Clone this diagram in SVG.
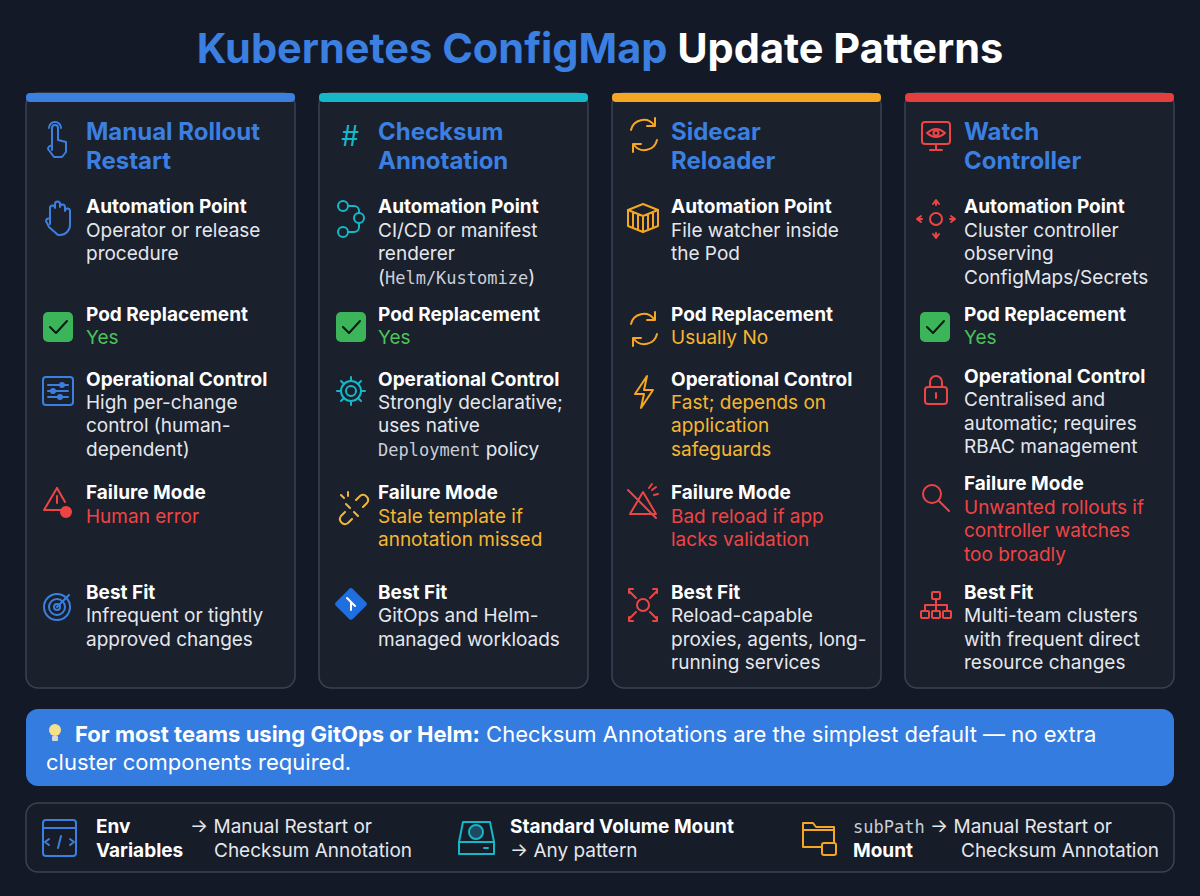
<svg xmlns="http://www.w3.org/2000/svg" width="1200" height="896" viewBox="0 0 1200 896">
<style>
text{font-family:Inter,"Noto Sans","Liberation Sans",sans-serif}
.h{font-size:19px;font-weight:700;fill:#ffffff}
.t{font-size:19px;fill:#e4e7ec}
.m{font-family:"DejaVu Sans Mono","Liberation Mono",monospace;font-size:17px;fill:#c9ced8}
.g{font-size:19px;fill:#4cc25a}
.a{font-size:19px;fill:#f5b731}
.r{font-size:19px;fill:#ef4444}
.card{fill:#1a202c;stroke:#3b4252;stroke-width:1.5}
.ct{font-size:24px;font-weight:700}
.ic{fill:none;stroke-width:2;stroke-linecap:round;stroke-linejoin:round}
</style>
<rect width="1200" height="896" fill="#131926"/>
<text x="600" y="63" text-anchor="middle" font-size="41.5" font-weight="700"><tspan fill="#3b7fe0">Kubernetes ConfigMap</tspan><tspan fill="#ffffff"> Update Patterns</tspan></text>

<g id="card1">
<rect class="card" x="26" y="93" width="269" height="595" rx="12"/>
<rect x="26" y="93" width="269" height="9" rx="4" fill="#3b7fe0"/>
<g class="ic" stroke="#3b7fe0"><path d="M52 150v-22a3 3 0 0 1 6 0v12l8 2v10l-4 5h-8l-6-8a3 3 0 0 1 4-3z"/><path d="M49 128a6 6 0 0 1 12 0"/></g>
<text class="ct" fill="#3b7fe0"><tspan x="86" y="140">Manual Rollout</tspan><tspan x="86" y="169">Restart</tspan></text>
<g class="ic" stroke="#3b7fe0"><path d="M50 224v-16a2.5 2.5 0 0 1 5 0v-4a2.5 2.5 0 0 1 5 0v3a2.5 2.5 0 0 1 5 0v4a2.5 2.5 0 0 1 5 0v14a10 10 0 0 1-10 10h-2l-9-8-3-6a2.5 2.5 0 0 1 4-2z"/></g>
<text class="h" x="86" y="213">Automation Point</text>
<text class="t"><tspan x="86" y="237">Operator or release</tspan><tspan x="86" y="260">procedure</tspan></text>
<rect x="43" y="312" width="30" height="30" rx="5" fill="#3cb55a"/><path d="M50 327l6 6 11-12" class="ic" stroke="#0d1a12" stroke-width="3"/>
<text class="h" x="86" y="321">Pod Replacement</text><text class="g" x="86" y="344">Yes</text>
<g class="ic" stroke="#3b7fe0"><rect x="43" y="377" width="30" height="28" rx="3"/><path d="M48 385h20M48 391h20M48 397h20"/><circle cx="62" cy="385" r="2"/><circle cx="53" cy="391" r="2"/><circle cx="60" cy="397" r="2"/></g>
<text class="h" x="86" y="386">Operational Control</text>
<text class="t"><tspan x="86" y="409">High per-change</tspan><tspan x="86" y="432">control (human-</tspan><tspan x="86" y="456">dependent)</tspan></text>
<g class="ic" stroke="#ef4444"><path d="M57 488l-13 22h22"/><path d="M57 488l8 14"/><path d="M57 496v7"/><circle cx="66" cy="512" r="5" fill="#ef4444"/></g>
<text class="h" x="86" y="499">Failure Mode</text><text class="r" x="86" y="523">Human error</text>
<g class="ic" stroke="#3b7fe0"><circle cx="57" cy="607" r="13"/><circle cx="57" cy="607" r="8"/><circle cx="57" cy="607" r="3"/><path d="M57 607l12-12"/></g>
<text class="h" x="86" y="599">Best Fit</text>
<text class="t"><tspan x="86" y="622">Infrequent or tightly</tspan><tspan x="86" y="646">approved changes</tspan></text>
</g>

<g id="card2">
<rect class="card" x="319" y="93" width="269" height="595" rx="12"/>
<rect x="319" y="93" width="269" height="9" rx="4" fill="#14b8c8"/>
<text x="350" y="146" font-size="28" fill="#14b8c8" text-anchor="middle">#</text>
<text class="ct" fill="#3b7fe0"><tspan x="378" y="140">Checksum</tspan><tspan x="378" y="169">Annotation</tspan></text>
<g class="ic" stroke="#14b8c8"><circle cx="343" cy="206" r="5"/><circle cx="359" cy="218" r="5"/><circle cx="343" cy="232" r="5"/><path d="M348 206h6a5 5 0 0 1 5 5v2M359 223v4a5 5 0 0 1-5 5h-6"/></g>
<text class="h" x="378" y="213">Automation Point</text>
<text class="t"><tspan x="378" y="237">CI/CD or manifest</tspan><tspan x="378" y="260">renderer</tspan><tspan x="378" y="284">(<tspan class="m">Helm/Kustomize</tspan>)</tspan></text>
<rect x="336" y="312" width="30" height="30" rx="5" fill="#3cb55a"/><path d="M343 327l6 6 11-12" class="ic" stroke="#0d1a12" stroke-width="3"/>
<text class="h" x="378" y="321">Pod Replacement</text><text class="g" x="378" y="344">Yes</text>
<g class="ic" stroke="#14b8c8"><circle cx="351" cy="391" r="5"/><path d="M351 377v4M351 401v4M337 391h4M361 391h4M341 381l3 3M358 398l3 3M341 401l3-3M358 384l3-3"/><circle cx="351" cy="391" r="10"/></g>
<text class="h" x="378" y="386">Operational Control</text>
<text class="t"><tspan x="378" y="409">Strongly declarative;</tspan><tspan x="378" y="432">uses native</tspan><tspan x="378" y="456"><tspan class="m">Deployment</tspan> policy</tspan></text>
<g class="ic" stroke="#f5b731"><path d="M345 512l-4 4a5 5 0 0 0 7 7l4-4M356 500l4-4a5 5 0 0 1 7 7l-4 4M350 508l-4-4M354 512l4 4M348 492v4M341 495l3 3"/></g>
<text class="h" x="378" y="499">Failure Mode</text>
<text class="a"><tspan x="378" y="523">Stale template if</tspan><tspan x="378" y="546">annotation missed</tspan></text>
<rect x="339" y="592" width="24" height="24" rx="3" transform="rotate(45 351 604)" fill="#1f6fe0"/><path d="M347 598l4 4v8M351 602l4 4" class="ic" stroke="#ffffff" stroke-width="1.5"/>
<text class="h" x="378" y="599">Best Fit</text>
<text class="t"><tspan x="378" y="622">GitOps and Helm-</tspan><tspan x="378" y="646">managed workloads</tspan></text>
</g>

<g id="card3">
<rect class="card" x="612" y="93" width="269" height="595" rx="12"/>
<rect x="612" y="93" width="269" height="9" rx="4" fill="#f5a623"/>
<g class="ic" stroke="#f5a623"><path d="M631 130a13 13 0 0 1 23-5M657 140a13 13 0 0 1-23 5"/><path d="M655 118v8h-8M633 152v-8h8"/></g>
<text class="ct" fill="#3b7fe0"><tspan x="671" y="140">Sidecar</tspan><tspan x="671" y="169">Reloader</tspan></text>
<g class="ic" stroke="#f5a623"><path d="M628 210l15-6 15 6v16l-15 6-15-6z"/><path d="M628 210l15 6 15-6M643 216v16M633 213v14M638 215v14M648 215v14M653 213v14"/></g>
<text class="h" x="671" y="213">Automation Point</text>
<text class="t"><tspan x="671" y="237">File watcher inside</tspan><tspan x="671" y="260">the Pod</tspan></text>
<g class="ic" stroke="#f5a623"><path d="M631 324a13 13 0 0 1 23-5M657 334a13 13 0 0 1-23 5"/><path d="M655 312v8h-8M633 346v-8h8"/></g>
<text class="h" x="671" y="321">Pod Replacement</text><text class="a" x="671" y="344">Usually No</text>
<path d="M647 376l-12 18h9l-3 14 12-18h-9z" class="ic" stroke="#f5a623"/>
<text class="h" x="671" y="386">Operational Control</text>
<text class="a"><tspan x="671" y="409">Fast; depends on</tspan><tspan x="671" y="432">application</tspan><tspan x="671" y="456">safeguards</tspan></text>
<g class="ic" stroke="#ef4444"><path d="M643 492l-13 22h26zM628 490l28 28M649 488l3-4M654 495l4-1M652 490l4-3"/></g>
<text class="h" x="671" y="499">Failure Mode</text>
<text class="r"><tspan x="671" y="523">Bad reload if app</tspan><tspan x="671" y="546">lacks validation</tspan></text>
<g class="ic" stroke="#ef4444"><circle cx="643" cy="605" r="6"/><path d="M629 593v-4h4M629 591l7 7M657 593v-4h-4M657 591l-7 7M629 617v4h4M629 619l7-7M657 617v4h-4M657 619l-7-7"/></g>
<text class="h" x="671" y="599">Best Fit</text>
<text class="t"><tspan x="671" y="622">Reload-capable</tspan><tspan x="671" y="646">proxies, agents, long-</tspan><tspan x="671" y="669">running services</tspan></text>
</g>

<g id="card4">
<rect class="card" x="905" y="93" width="269" height="595" rx="12"/>
<rect x="905" y="93" width="269" height="9" rx="4" fill="#e53e3e"/>
<g class="ic" stroke="#ef4444"><rect x="922" y="122" width="28" height="22" rx="3"/><path d="M936 144v6M930 150h12"/><path d="M927 133q9-8 18 0q-9 8-18 0z"/><circle cx="936" cy="133" r="2.5"/></g>
<text class="ct" fill="#3b7fe0"><tspan x="964" y="140">Watch</tspan><tspan x="964" y="169">Controller</tspan></text>
<g class="ic" stroke="#ef4444"><circle cx="936" cy="219" r="6"/><path d="M936 205v-4M936 233v4M922 219h-4M950 219h4"/><path d="M933 204l3-4 3 4M933 234l3 4 3-4M921 216l-4 3 4 3M951 216l4 3-4 3"/></g>
<text class="h" x="964" y="213">Automation Point</text>
<text class="t"><tspan x="964" y="237">Cluster controller</tspan><tspan x="964" y="260">observing</tspan><tspan x="964" y="284">ConfigMaps/Secrets</tspan></text>
<rect x="920" y="312" width="30" height="30" rx="5" fill="#3cb55a"/><path d="M927 327l6 6 11-12" class="ic" stroke="#0d1a12" stroke-width="3"/>
<text class="h" x="964" y="321">Pod Replacement</text><text class="g" x="964" y="344">Yes</text>
<g class="ic" stroke="#ef4444"><rect x="925" y="387" width="22" height="17" rx="3"/><path d="M930 387v-5a6 6 0 0 1 12 0v5M936 393v5"/></g>
<text class="h" x="964" y="383">Operational Control</text>
<text class="t"><tspan x="964" y="406">Centralised and</tspan><tspan x="964" y="430">automatic; requires</tspan><tspan x="964" y="453">RBAC management</tspan></text>
<g class="ic" stroke="#ef4444"><circle cx="932" cy="494" r="9"/><path d="M939 501l10 10"/></g>
<text class="h" x="964" y="490">Failure Mode</text>
<text class="r"><tspan x="964" y="514">Unwanted rollouts if</tspan><tspan x="964" y="537">controller watches</tspan><tspan x="964" y="561">too broadly</tspan></text>
<g class="ic" stroke="#ef4444"><rect x="932" y="592" width="8" height="7" rx="1"/><rect x="921" y="611" width="8" height="7" rx="1"/><rect x="932" y="611" width="8" height="7" rx="1"/><rect x="943" y="611" width="8" height="7" rx="1"/><path d="M936 599v12M925 611v-6h22v6"/></g>
<text class="h" x="964" y="599">Best Fit</text>
<text class="t"><tspan x="964" y="622">Multi-team clusters</tspan><tspan x="964" y="646">with frequent direct</tspan><tspan x="964" y="669">resource changes</tspan></text>
</g>

<g id="banner">
<rect x="26" y="709" width="1148" height="77" rx="12" fill="#347ce0"/>
<g><circle cx="55" cy="730" r="6" fill="#f7e08a"/><rect x="52" y="736" width="6" height="5" rx="1" fill="#d8d8d8"/></g>
<text font-size="22" fill="#ffffff"><tspan x="75" y="742" font-weight="700">For most teams using GitOps or Helm:</tspan><tspan> Checksum Annotations are the simplest default — no extra</tspan><tspan x="46" y="770">cluster components required.</tspan></text>
</g>

<g id="footer">
<rect x="26" y="803" width="1148" height="69" rx="12" fill="#161c28" stroke="#3b4252" stroke-width="1.5"/>
<g class="ic" stroke="#3b7fe0"><rect x="43" y="820" width="33" height="36" rx="3"/><path d="M43 828h33M49 839l-4 3 4 3M70 839l4 3-4 3M61 836l-3 12"/></g>
<text class="h" x="96" y="833">Env</text><text class="h" x="96" y="857">Variables</text>
<text class="t"><tspan x="190" y="833">→ Manual Restart or</tspan><tspan x="214" y="857">Checksum Annotation</tspan></text>
<g class="ic" stroke="#14b8c8"><path d="M463 822h27l4 20v12h-35v-12z"/><path d="M459 842h35M484 848h4"/><circle cx="476" cy="832" r="7" fill="#1d4a5e"/></g>
<text class="h" x="510" y="833">Standard Volume Mount</text><text class="t" x="510" y="857">→ Any pattern</text>
<g class="ic" stroke="#f5a623"><path d="M803 823h10l3 4h18v20h-31z"/><path d="M803 830h31"/><rect x="822" y="843" width="14" height="12" rx="2" fill="#161c28"/></g>
<text x="853" y="833"><tspan class="m" font-size="18">subPath</tspan><tspan class="t"> → Manual Restart or</tspan></text>
<text class="h" x="853" y="857">Mount</text><text class="t" x="961" y="857">Checksum Annotation</text>
</g>
</svg>
